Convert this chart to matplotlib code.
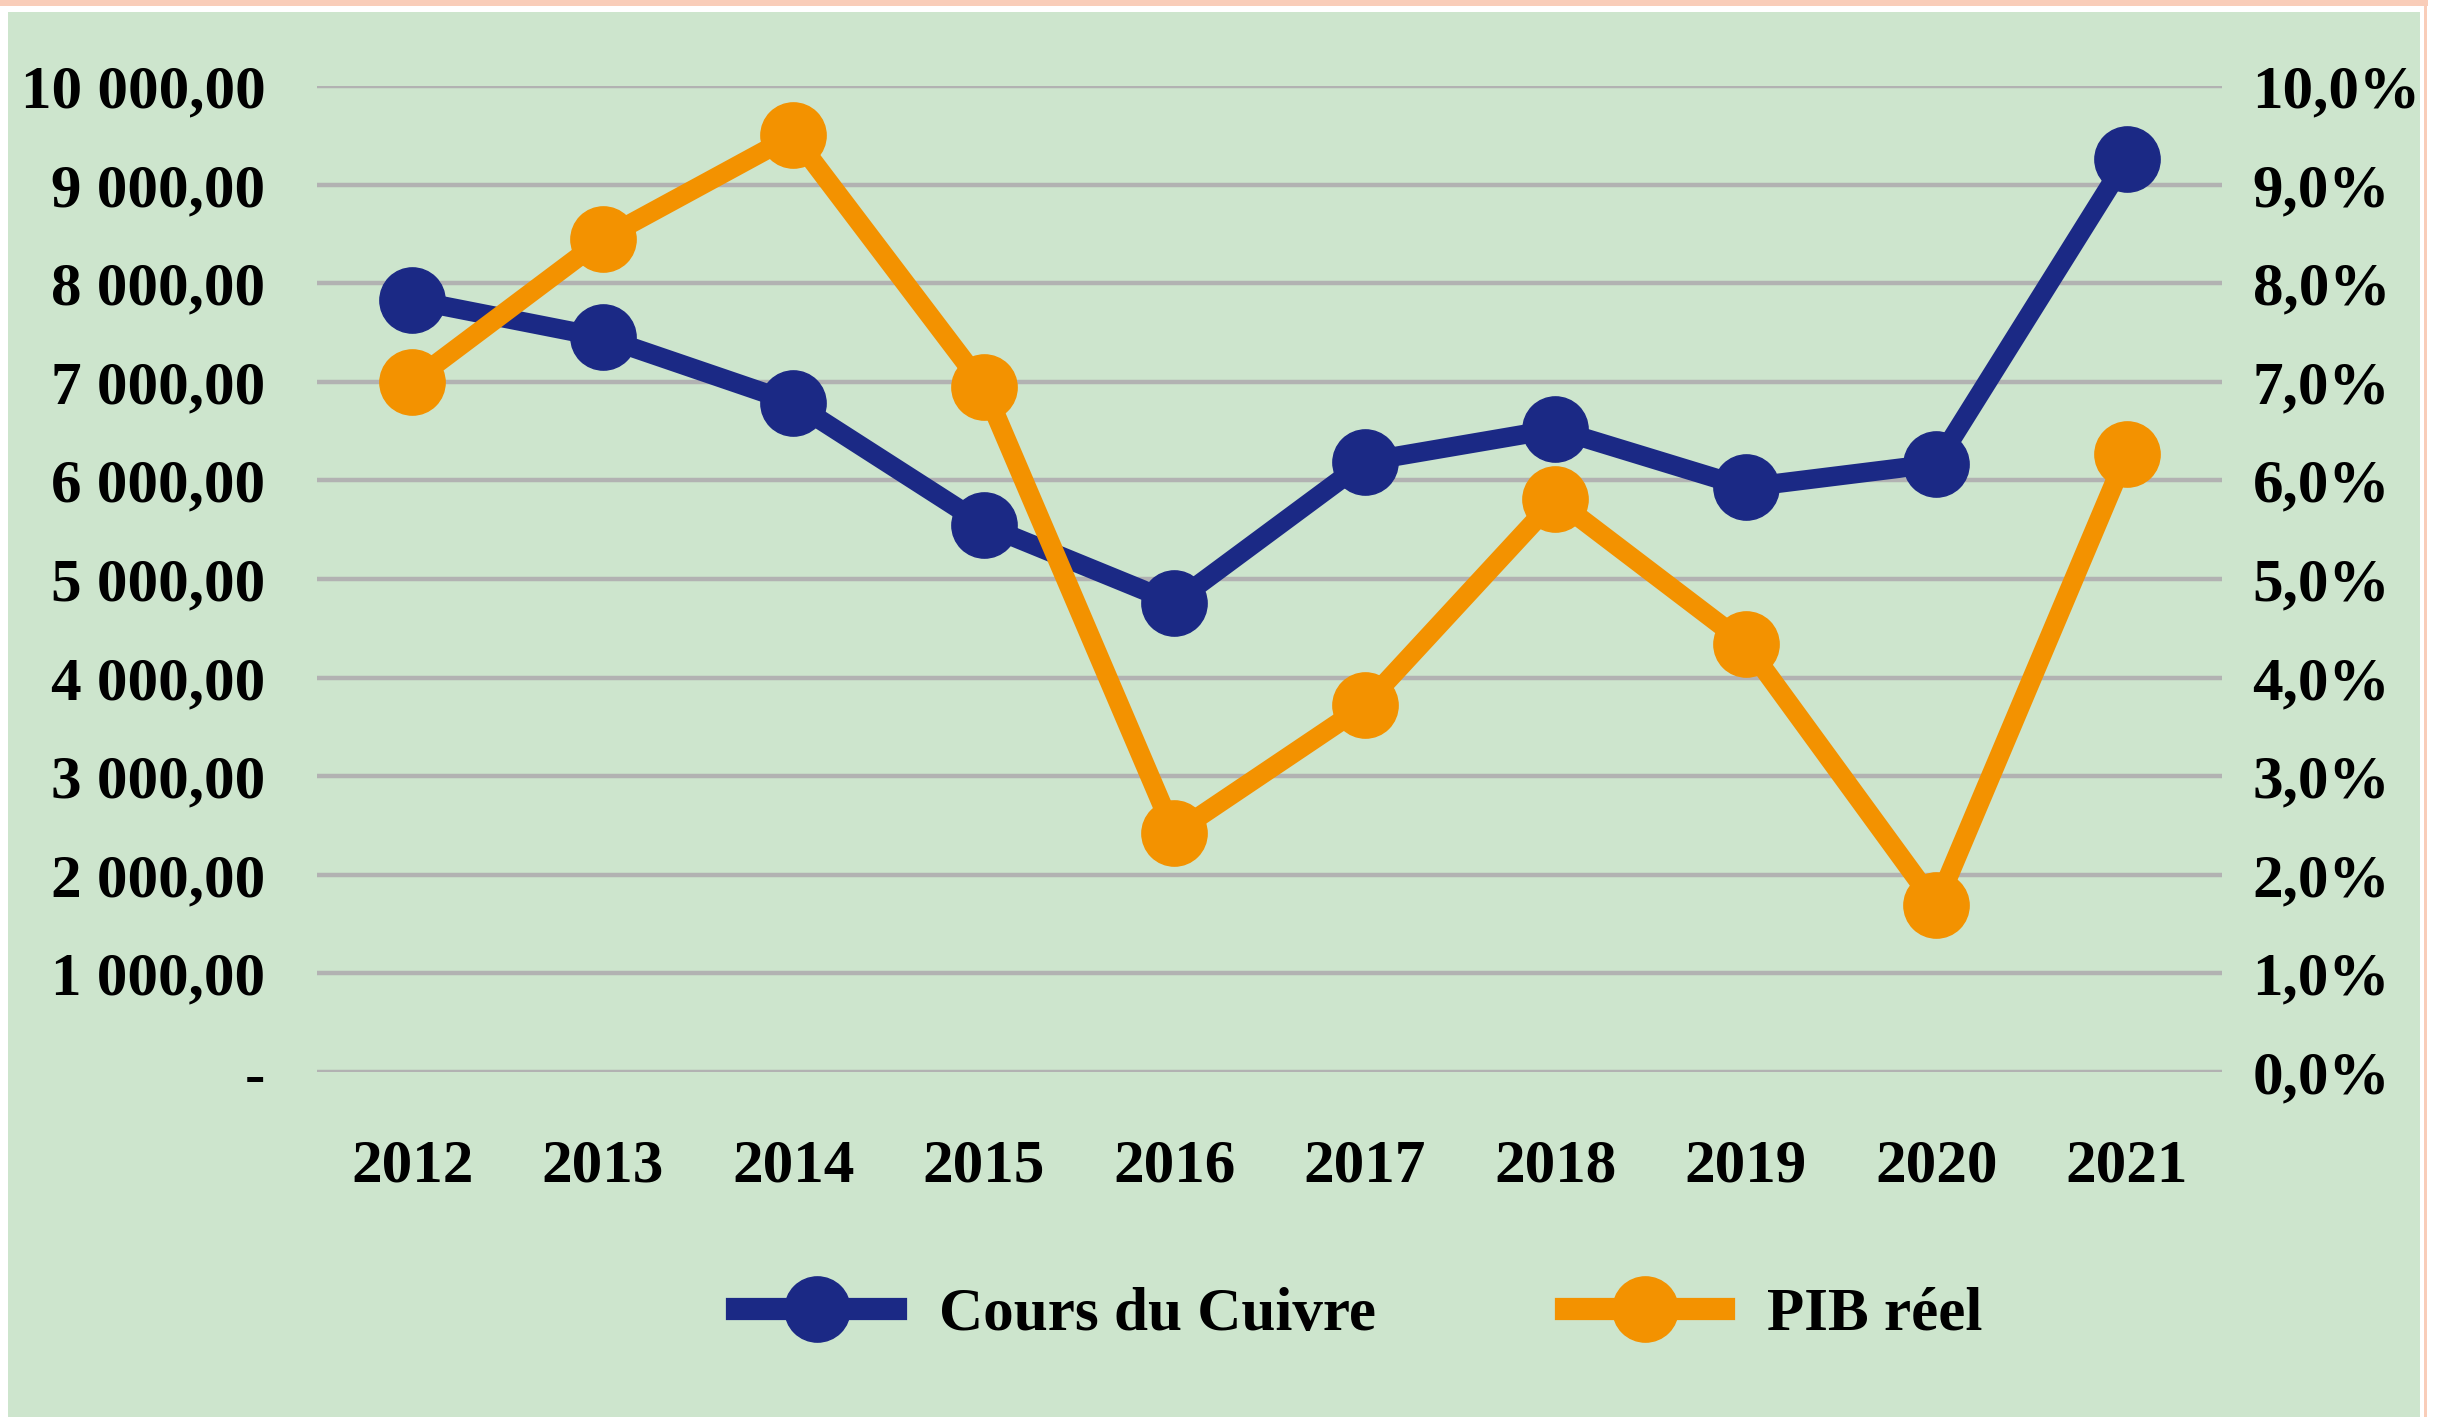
import matplotlib.pyplot as plt
from matplotlib.patches import Rectangle
from matplotlib.lines import Line2D

# data
years = ['2012', '2013', '2014', '2015', '2016', '2017', '2018', '2019', '2020', '2021']
cuivre = [7830, 7450, 6790, 5550, 4760, 6190, 6520, 5930, 6170, 9260]
pib = [7.0, 8.45, 9.5, 6.95, 2.42, 3.72, 5.81, 4.34, 1.69, 6.27]

left_ticks = [0, 1000, 2000, 3000, 4000, 5000, 6000, 7000, 8000, 9000, 10000]
left_labels = ['-', '1 000,00', '2 000,00', '3 000,00', '4 000,00', '5 000,00',
               '6 000,00', '7 000,00', '8 000,00', '9 000,00', '10 000,00']
right_ticks = [0, 1, 2, 3, 4, 5, 6, 7, 8, 9, 10]
right_labels = ['0,0%', '1,0%', '2,0%', '3,0%', '4,0%', '5,0%',
                '6,0%', '7,0%', '8,0%', '9,0%', '10,0%']

blue = '#1B2985'
orange = '#F39200'
green = '#CDE5CD'
grid = '#B2B2B2'
fs = 44

plt.rcParams['font.family'] = ['Liberation Serif', 'DejaVu Serif']
plt.rcParams['font.weight'] = 'bold'

fig = plt.figure(figsize=(24.46, 14.17), dpi=100, facecolor='white')

# background panel and peach border
W, H = 2446, 1417
fig.patches.append(Rectangle((8 / W, 0), (2420 - 8) / W, 1 - 12 / H,
                             transform=fig.transFigure, facecolor=green,
                             edgecolor='none', zorder=-10))
fig.patches.append(Rectangle((0, 1 - 6 / H), 2428 / W, 6 / H,
                             transform=fig.transFigure, facecolor='#F9CDB9',
                             edgecolor='none', zorder=-10))
fig.patches.append(Rectangle((2424 / W, 0), 3 / W, 1,
                             transform=fig.transFigure, facecolor='#F9CDB9',
                             edgecolor='none', zorder=-10))

ax = fig.add_axes([317 / W, 345 / H, (2222 - 317) / W, (1331 - 345) / H])
ax.set_facecolor('none')
x = list(range(len(years)))
ax.set_xlim(-0.5, len(years) - 0.5)
ax.set_ylim(0, 10000)
for t in left_ticks:
    ax.axhline(t, color=grid, lw=3.2, zorder=1)

ax.plot(x, cuivre, color=blue, lw=14, marker='o', ms=47, clip_on=False,
        solid_joinstyle='round', zorder=3)
ax.set_yticks(left_ticks)
ax.set_yticklabels(left_labels, fontsize=fs, fontweight='bold')
ax.set_xticks(x)
ax.set_xticklabels(years, fontsize=fs, fontweight='bold')
ax.tick_params(axis='y', length=0, pad=37)
ax.tick_params(axis='x', length=0, pad=48)
for s in ax.spines.values():
    s.set_visible(False)

ax2 = ax.twinx()
ax2.set_ylim(0, 10)
ax2.plot(x, pib, color=orange, lw=14, marker='o', ms=47, clip_on=False,
         solid_joinstyle='round', zorder=3)
ax2.set_yticks(right_ticks)
ax2.set_yticklabels(right_labels, fontsize=fs, fontweight='bold')
ax2.tick_params(axis='y', length=0, pad=22)
for s in ax2.spines.values():
    s.set_visible(False)

handles = [Line2D([], [], color=blue, lw=16, marker='o', ms=47),
           Line2D([], [], color=orange, lw=16, marker='o', ms=47)]
fig.legend(handles, ['Cours du Cuivre', 'PIB réel'], loc='center',
           bbox_to_anchor=(0.556, 0.072), ncol=2, frameon=False,
           prop={'size': fs, 'weight': 'bold'}, handlelength=2.6,
           handletextpad=0.7, columnspacing=3.1)

fig.savefig('out.png', dpi=100, facecolor='white')
